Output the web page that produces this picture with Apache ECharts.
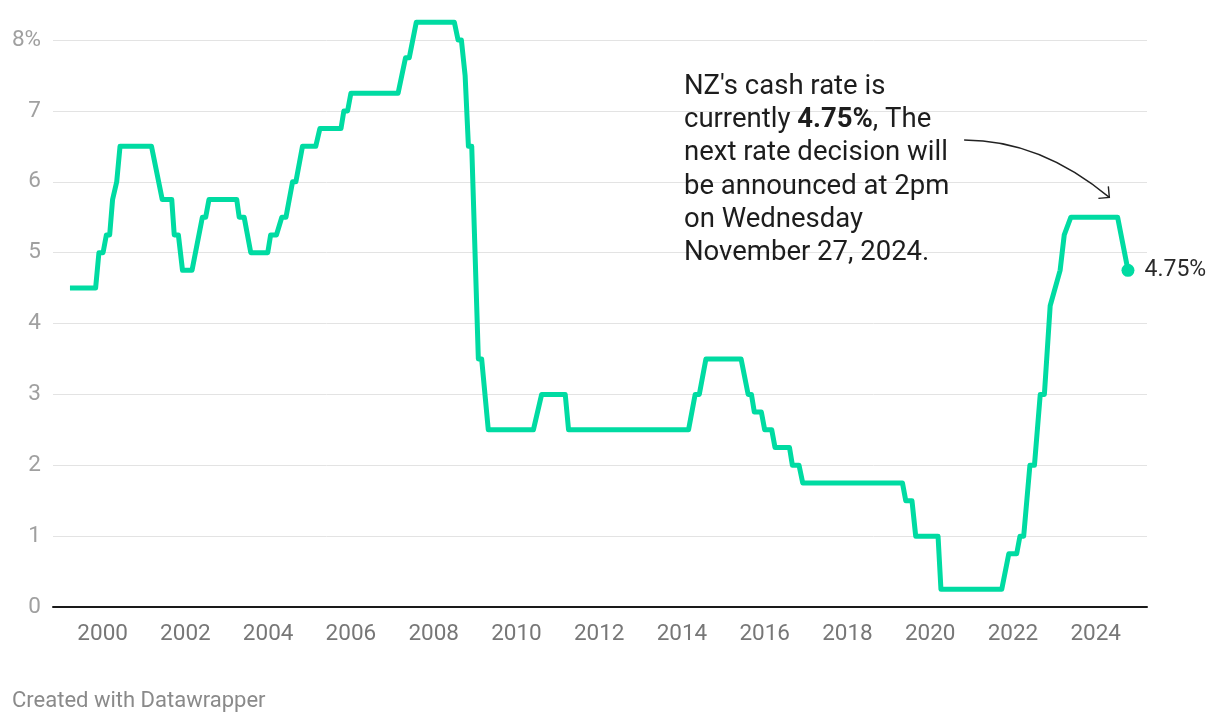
<!DOCTYPE html>
<html>
<head>
<meta charset="utf-8">
<script src="https://cdn.jsdelivr.net/npm/echarts@6/dist/echarts.min.js"></script>
<style>
  html, body { margin: 0; padding: 0; background: #fff; }
  #chart { width: 1220px; height: 724px; }
</style>
</head>
<body>
<div id="chart"></div>
<script>
// OCR 走势：折线顶点（年份小数, 利率%）
const rateDates = [
  1999.21, 1999.83, 1999.91, 2000.01, 2000.09, 2000.17, 2000.24, 2000.34, 2000.42,
  2001.18, 2001.44, 2001.67, 2001.73, 2001.83, 2001.93, 2002.16, 2002.41, 2002.49,
  2002.57, 2003.24, 2003.30, 2003.42, 2003.58, 2003.99, 2004.06, 2004.20, 2004.33,
  2004.43, 2004.59, 2004.67, 2004.83, 2005.15, 2005.25, 2005.76, 2005.83, 2005.92,
  2006.00, 2007.14, 2007.32, 2007.41, 2007.58, 2008.50, 2008.59, 2008.67, 2008.76,
  2008.84, 2008.92, 2009.08, 2009.16, 2009.32, 2010.41, 2010.61, 2011.18, 2011.26,
  2014.16, 2014.32, 2014.42, 2014.58, 2015.43, 2015.60, 2015.68, 2015.75, 2015.92,
  2016.00, 2016.17, 2016.25, 2016.60, 2016.67, 2016.83, 2016.92, 2019.33, 2019.41,
  2019.56, 2019.65, 2020.19, 2020.26, 2021.73, 2021.90, 2022.09, 2022.17, 2022.26,
  2022.41, 2022.52, 2022.66, 2022.76, 2022.90, 2023.14, 2023.24, 2023.40, 2024.53,
  2024.78
];
const rateValues = [
  4.5, 4.5, 5.0, 5.0, 5.25, 5.25, 5.75, 6.0, 6.5,
  6.5, 5.75, 5.75, 5.25, 5.25, 4.75, 4.75, 5.5, 5.5,
  5.75, 5.75, 5.5, 5.5, 5.0, 5.0, 5.25, 5.25, 5.5,
  5.5, 6.0, 6.0, 6.5, 6.5, 6.75, 6.75, 7.0, 7.0,
  7.25, 7.25, 7.75, 7.75, 8.25, 8.25, 8.0, 8.0, 7.5,
  6.5, 6.5, 3.5, 3.5, 2.5, 2.5, 3.0, 3.0, 2.5,
  2.5, 3.0, 3.0, 3.5, 3.5, 3.0, 3.0, 2.75, 2.75,
  2.5, 2.5, 2.25, 2.25, 2.0, 2.0, 1.75, 1.75, 1.5,
  1.5, 1.0, 1.0, 0.25, 0.25, 0.75, 0.75, 1.0, 1.0,
  2.0, 2.0, 3.0, 3.0, 4.25, 4.75, 5.25, 5.5, 5.5,
  4.75
];
const yearTicks = [2000, 2002, 2004, 2006, 2008, 2010, 2012, 2014, 2016, 2018, 2020, 2022, 2024];

const annotationLines = [
  '{a|NZ\'s cash rate is}',
  '{a|currently }{b|4.75%}{a|, The}',
  '{a|next rate decision will}',
  '{a|be announced at 2pm}',
  '{a|on Wednesday}',
  '{a|November 27, 2024.}'
];

const LINE_COLOR = '#00dba2';
const FONT = 'Roboto, "Noto Sans", sans-serif';

const chart = echarts.init(document.getElementById('chart'), null, { renderer: 'canvas' });

const lineData = rateDates.map((d, i) => [d, rateValues[i]]);
const lastPoint = lineData[lineData.length - 1];

const option = {
  animation: false,
  textStyle: { fontFamily: FONT },
  grid: {
    left: 53,
    right: 73,
    top: 40,
    bottom: 117,
  },
  xAxis: {
    type: 'value',
    min: 1998.8,
    max: 2025.24,
    axisLine: { show: true, onZero: true, lineStyle: { color: '#1a1a1a', width: 2 } },
    axisTick: { show: false },
    splitLine: { show: false },
    axisLabel: {
      customValues: yearTicks,
      color: '#777',
      fontSize: 22.5,
      fontFamily: FONT,
      margin: 16,
      formatter: v => String(v),
    },
  },
  yAxis: {
    type: 'value',
    min: 0,
    max: 8,
    interval: 1,
    axisLine: { show: false },
    axisTick: { show: false },
    splitLine: { show: true, lineStyle: { color: '#e3e3e3', width: 1 } },
    axisLabel: {
      color: '#a0a0a0',
      fontSize: 22.5,
      fontFamily: FONT,
      margin: 12,
      formatter: v => (v === 8 ? '8%' : String(v)),
    },
  },
  series: [
    {
      type: 'line',
      data: lineData,
      symbol: 'none',
      smooth: false,
      clip: false, // 8.25% 高于顶部网格线
      lineStyle: { color: LINE_COLOR, width: 5, join: 'round', cap: 'butt' },
      z: 3,
    },
    {
      // 末端圆点 + 标签
      type: 'scatter',
      data: [lastPoint],
      symbolSize: 13,
      itemStyle: { color: LINE_COLOR, opacity: 1 },
      label: {
        show: true,
        position: 'right',
        distance: 10,
        color: '#2a2a2a',
        fontSize: 23,
        fontFamily: FONT,
        formatter: p => p.value[1] + '%',
      },
      z: 4,
    },
  ],
};

chart.setOption(option);

// 注释箭头：用数据坐标定位
const arrowStart = chart.convertToPixel({ gridIndex: 0 }, [2020.82, 6.59]);
const arrowCtrl = chart.convertToPixel({ gridIndex: 0 }, [2022.66, 6.59]);
const arrowEnd = chart.convertToPixel({ gridIndex: 0 }, [2024.33, 5.78]);

const dx = arrowEnd[0] - arrowCtrl[0];
const dy = arrowEnd[1] - arrowCtrl[1];
const len = Math.sqrt(dx * dx + dy * dy);
const bx = -dx / len, by = -dy / len;
const headLen = 11;
const c = Math.cos(Math.PI / 4), s = Math.sin(Math.PI / 4);
const arm1 = [arrowEnd[0] + headLen * (bx * c - by * s), arrowEnd[1] + headLen * (bx * s + by * c)];
const arm2 = [arrowEnd[0] + headLen * (bx * c + by * s), arrowEnd[1] + headLen * (-bx * s + by * c)];

chart.setOption({
  graphic: [
    {
      type: 'text',
      left: 684,
      top: 73,
      style: {
        text: annotationLines.join('\n'),
        rich: {
          a: { fontSize: 27.5, lineHeight: 33.3, fill: '#1d1d1d', fontFamily: FONT },
          b: { fontSize: 27.5, lineHeight: 33.3, fill: '#1d1d1d', fontFamily: FONT, fontWeight: 'bold' },
        },
      },
    },
    {
      type: 'bezierCurve',
      shape: {
        x1: arrowStart[0], y1: arrowStart[1],
        cpx1: arrowCtrl[0], cpy1: arrowCtrl[1],
        x2: arrowEnd[0], y2: arrowEnd[1],
      },
      style: { stroke: '#222', lineWidth: 1.4, fill: null },
    },
    {
      type: 'polyline',
      shape: { points: [arm1, arrowEnd, arm2] },
      style: { stroke: '#222', lineWidth: 1.4, fill: null },
    },
    {
      type: 'text',
      left: 12,
      top: 690,
      style: {
        text: 'Created with Datawrapper',
        fontSize: 22,
        fill: '#8a8a8a',
        fontFamily: FONT,
      },
    },
  ],
});

window.addEventListener('resize', () => chart.resize());
</script>
</body>
</html>
